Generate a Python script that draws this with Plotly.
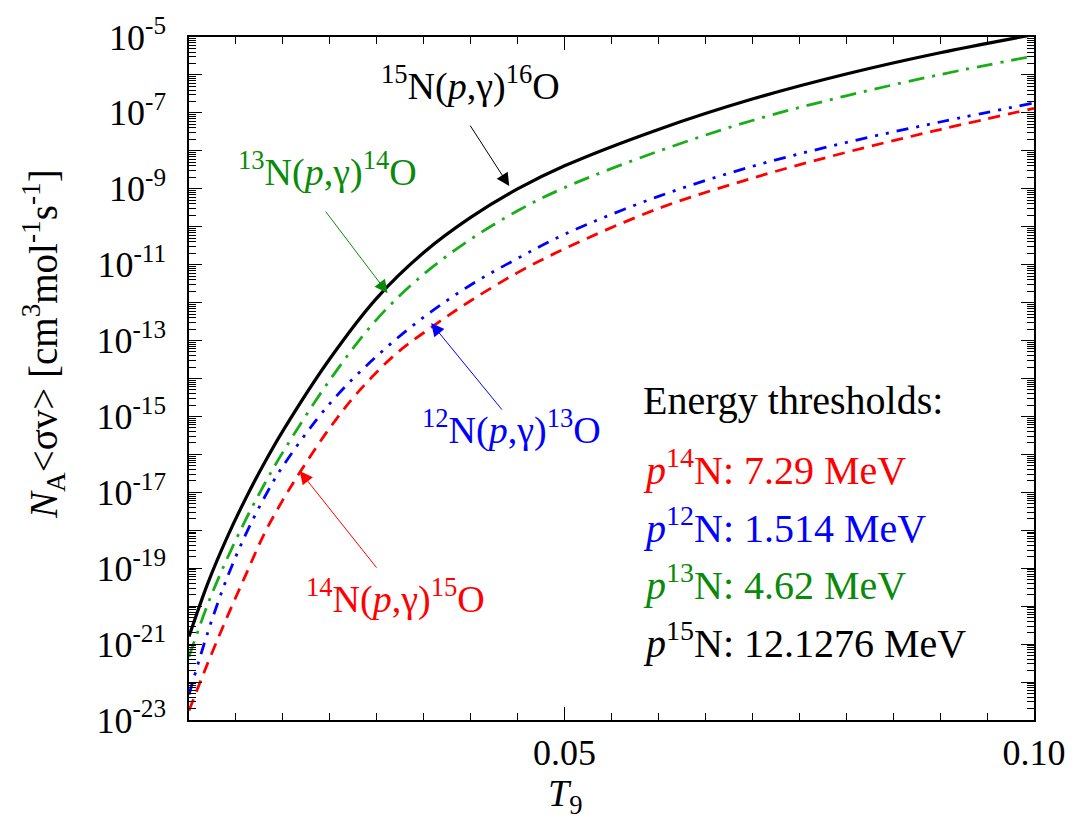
import numpy as np
import plotly.graph_objects as go

# Temperature grid (T9) and log10 of the reaction rate N_A<sigma v> for each capture reaction
T_15N = [0.010, 0.012, 0.014, 0.016, 0.018, 0.020, 0.025, 0.030, 0.035, 0.040,
         0.045, 0.050, 0.060, 0.070, 0.080, 0.090, 0.100]
log_15N = [-20.80, -19.40, -18.22, -17.18, -16.24, -15.38, -13.48, -11.88, -10.68, -9.755,
           -9.005, -8.395, -7.435, -6.635, -5.975, -5.415, -4.935]

T_13N = [0.010, 0.012, 0.014, 0.016, 0.018, 0.020, 0.025, 0.030, 0.035, 0.040,
         0.045, 0.050, 0.060, 0.070, 0.080, 0.090, 0.100]
log_13N = [-21.33, -19.95, -18.78, -17.74, -16.80, -15.94, -14.04, -12.44, -11.25, -10.33,
           -9.58, -8.97, -8.01, -7.20, -6.55, -5.99, -5.50]

T_12N = [0.010, 0.012, 0.014, 0.016, 0.018, 0.020, 0.025, 0.030, 0.035, 0.040,
         0.045, 0.050, 0.060, 0.070, 0.080, 0.090, 0.100]
log_12N = [-22.33, -20.69, -19.29, -18.13, -17.15, -16.31, -14.66, -13.41, -12.385, -11.535,
           -10.835, -10.20, -9.20, -8.41, -7.78, -7.24, -6.74]

T_14N = [0.010, 0.012, 0.014, 0.016, 0.018, 0.020, 0.022, 0.025, 0.028, 0.032,
         0.036, 0.040, 0.045, 0.050, 0.060, 0.070, 0.080, 0.090, 0.100]
log_14N = [-22.75, -21.50, -20.32, -19.20, -18.10, -17.20, -16.40, -15.30, -14.36, -13.36,
           -12.62, -11.95, -11.21, -10.58, -9.52, -8.72, -8.04, -7.44, -6.88]

# Threshold energies shown in the inset text
threshold_labels = ["<i>p</i><sup>14</sup>N: 7.29 MeV",
                    "<i>p</i><sup>12</sup>N: 1.514 MeV",
                    "<i>p</i><sup>13</sup>N: 4.62 MeV",
                    "<i>p</i><sup>15</sup>N: 12.1276 MeV"]

# Axis ticks
x_major = [0.05, 0.10]
x_major_text = ["0.05", "0.10"]
y_exponents = list(range(-23, -4))

SERIF = "Liberation Serif, Times New Roman, serif"
RED, BLUE, GREEN_LINE, GREEN_TEXT, BLACK = "#ff0000", "#0000ff", "#1aad1a", "#0a8a0a", "#000000"

series = [
    (T_14N, log_14N, RED, "12px,8px", 2.8),
    (T_12N, log_12N, BLUE, "12px,8px,3px,8px,3px,8px", 2.8),
    (T_13N, log_13N, GREEN_LINE, "16px,8px,3px,8px", 2.8),
    (T_15N, log_15N, BLACK, "solid", 3.2),
]

fig = go.Figure()
for t, lg, col, dash, w in series:
    fig.add_trace(go.Scatter(
        x=t, y=10.0 ** np.array(lg), mode="lines",
        line=dict(color=col, width=w, dash=dash, shape="spline", smoothing=1.0),
        showlegend=False, hoverinfo="skip", cliponaxis=True))

ytickvals = [10.0 ** e for e in y_exponents]
yticktext = [f"10<sup>{e}</sup>" if e % 2 else "" for e in y_exponents]

fig.update_layout(
    width=1078, height=824,
    margin=dict(l=189, r=42, t=29, b=104),
    paper_bgcolor="white", plot_bgcolor="white",
    font=dict(family=SERIF, size=36, color="black"),
    xaxis=dict(
        range=[0.01, 0.10], tickvals=x_major, ticktext=x_major_text,
        ticks="inside", ticklen=13, tickwidth=1.3, tickcolor="black",
        minor=dict(dtick=0.005, tick0=0.0, ticks="inside", ticklen=7, tickwidth=1.3, tickcolor="black"),
        showline=True, linecolor="black", linewidth=1.5, mirror="ticks",
        showgrid=False, zeroline=False, tickfont=dict(size=36),
    ),
    yaxis=dict(
        type="log", range=[-23, -5], tickvals=ytickvals, ticktext=yticktext,
        ticks="inside", ticklen=13, tickwidth=1.3, tickcolor="black",
        minor=dict(dtick="D1", ticks="inside", ticklen=7, tickwidth=1.1, tickcolor="black"),
        showline=True, linecolor="black", linewidth=1.5, mirror="ticks",
        showgrid=False, zeroline=False, tickfont=dict(size=36), ticklabelstandoff=14,
    ),
)

# Axis titles
fig.add_annotation(xref="paper", yref="paper", x=-0.172, y=0.55, textangle=-90,
                   text="<i>N</i><sub>A</sub>&lt;σv&gt; [cm<sup>3</sup>mol<sup>-1</sup>s<sup>-1</sup>]",
                   showarrow=False, font=dict(size=39), xanchor="center", yanchor="middle")
fig.add_annotation(xref="x", yref="paper", x=0.05, y=-0.112,
                   text="<i>T</i><sub>9</sub>", showarrow=False, font=dict(size=38),
                   xanchor="center", yanchor="middle")

# Reaction labels and arrows pointing to the curves
labels = [
    ("<sup>15</sup>N(<i>p</i>,γ)<sup>16</sup>O", BLACK, 0.0400, -6.23, 0.04411, -8.93, -40, -62),
    ("<sup>13</sup>N(<i>p</i>,γ)<sup>14</sup>O", GREEN_TEXT, 0.0247, -8.50, 0.03115, -11.75, -63, -83),
    ("<sup>12</sup>N(<i>p</i>,γ)<sup>13</sup>O", BLUE, 0.0444, -15.29, 0.03579, -12.54, 72, 88),
    ("<sup>14</sup>N(<i>p</i>,γ)<sup>15</sup>O", RED, 0.0320, -19.74, 0.02179, -16.44, 78, 98),
]
for text, col, tx, ty, ax_, ay_, dx, dy in labels:
    fig.add_annotation(x=tx, y=ty, xref="x", yref="y", text=text, showarrow=False,
                       font=dict(size=38, color=col), xanchor="center", yanchor="middle")
    fig.add_annotation(x=ax_, y=ay_, xref="x", yref="y", text="", showarrow=True,
                       ax=dx, ay=dy, arrowhead=2, arrowsize=2.6, arrowwidth=1, arrowcolor=col)

# Energy threshold inset
fig.add_annotation(xref="paper", yref="paper", x=0.535, y=0.468, text="Energy thresholds:",
                   showarrow=False, font=dict(size=40, color=BLACK), xanchor="left", yanchor="middle")
threshold_colors = [RED, BLUE, GREEN_TEXT, BLACK]
for i, (txt, col) in enumerate(zip(threshold_labels, threshold_colors)):
    fig.add_annotation(xref="paper", yref="paper", x=0.535, y=0.37 - i * 0.0845, text=txt,
                       showarrow=False, font=dict(size=40, color=col), xanchor="left", yanchor="middle")

fig.write_html("out.html")
